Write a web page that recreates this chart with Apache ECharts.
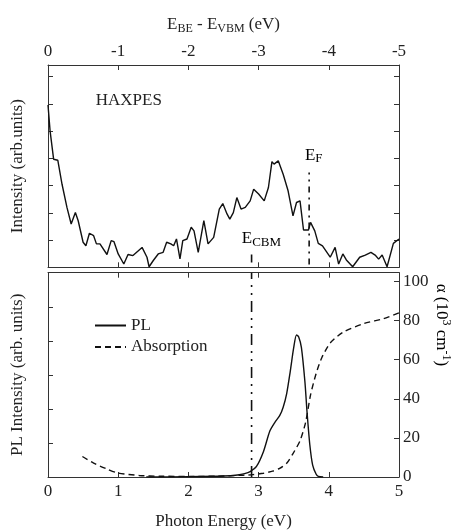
<!DOCTYPE html>
<html><head><meta charset="utf-8">
<script src="https://cdn.jsdelivr.net/npm/echarts@6/dist/echarts.min.js"></script>
<style>html,body{margin:0;padding:0;background:#fff}#c{width:456px;height:531px}</style>
</head><body><div id="c"></div>
<script>
// HAXPES valence band spectrum: [E_BE - E_VBM (eV), intensity (arb.)]
const haxpes = [[0,5.96],[-0.03,5.0],[-0.08,3.97],[-0.14,3.93],[-0.2,3.05],[-0.27,2.2],[-0.33,1.59],[-0.39,2.01],[-0.43,1.71],[-0.5,0.92],[-0.54,0.79],[-0.59,1.25],[-0.65,1.16],[-0.69,0.86],[-0.74,0.86],[-0.84,0.47],[-0.9,0.98],[-0.94,0.94],[-1.0,0.49],[-1.08,0.12],[-1.14,0.47],[-1.21,0.43],[-1.34,0.73],[-1.41,0.37],[-1.44,0.02],[-1.5,0.25],[-1.57,0.49],[-1.64,0.55],[-1.69,0.92],[-1.75,0.86],[-1.79,0.79],[-1.83,1.04],[-1.88,0.31],[-1.92,0.98],[-1.98,1.04],[-2.04,1.47],[-2.08,1.34],[-2.14,0.55],[-2.22,1.71],[-2.28,0.86],[-2.36,1.1],[-2.44,2.14],[-2.49,2.34],[-2.55,1.96],[-2.59,1.77],[-2.64,2.01],[-2.69,2.56],[-2.75,2.14],[-2.81,2.2],[-2.88,2.44],[-2.93,2.87],[-3.0,2.69],[-3.08,2.44],[-3.14,2.93],[-3.19,3.88],[-3.22,3.79],[-3.28,3.91],[-3.35,3.42],[-3.42,2.81],[-3.49,1.89],[-3.54,2.38],[-3.59,2.44],[-3.64,1.37],[-3.71,1.37],[-3.74,1.65],[-3.8,1.34],[-3.85,0.88],[-3.91,0.79],[-4.02,0.37],[-4.09,0.73],[-4.14,0.12],[-4.2,0.49],[-4.25,0.27],[-4.34,0.02],[-4.44,0.37],[-4.52,0.45],[-4.6,0.55],[-4.66,0.45],[-4.71,0.3],[-4.76,0.45],[-4.83,0.02],[-4.92,0.88],[-5.0,1.04]];
// PL spectrum: [photon energy (eV), PL intensity (arb.)]
const plData = [[1.4,0],[2.0,0.01],[2.5,0.03],[2.7,0.06],[2.8,0.1],[2.88,0.16],[2.97,0.31],[3.07,0.75],[3.16,1.35],[3.23,1.6],[3.3,1.8],[3.35,2.05],[3.4,2.45],[3.45,3.09],[3.5,3.8],[3.54,4.17],[3.57,4.12],[3.61,3.8],[3.66,2.79],[3.69,1.91],[3.73,0.94],[3.77,0.35],[3.82,0.08],[3.85,0.02],[3.92,0]];
// Absorption coefficient: [photon energy (eV), alpha (10^3 cm^-1)]
const absorption = [[0.49,10.5],[0.65,7.1],[0.84,4.1],[1.0,2.0],[1.3,0.8],[1.6,0.4],[2.0,0.3],[2.4,0.4],[2.64,0.7],[2.92,1.2],[3.07,1.9],[3.2,3.0],[3.3,4.4],[3.4,7.0],[3.49,12],[3.59,18.5],[3.67,28],[3.74,42],[3.82,53],[3.9,61],[4.02,68.5],[4.2,74],[4.5,78.5],[4.78,81],[5.0,84]];
// marker energies
const eCBM = 2.9;
const eF = -3.72;
const legendNames = ['PL','Absorption'];

const FONT = 'Liberation Serif';
const INK = '#111';
const AX = '#333';
const tick = {show:true, inside:true, length:5, lineStyle:{color:AX}};
const line = {show:true, onZero:false, lineStyle:{color:AX, width:1}};
const lbl = {fontFamily:FONT, fontSize:17, color:'#222'};

const chart = echarts.init(document.getElementById('c'), null, {renderer:'canvas'});
const option = {
  animation:false,
  backgroundColor:'#fff',
  grid:[
    {left:48, right:57, top:65, height:202.3},
    {left:48, right:57, top:272.7, height:204.6}
  ],
  legend:{
    data:legendNames.map(n => ({name:n})), orient:'vertical', left:89, top:312, itemWidth:31, itemHeight:14, itemGap:4.4,
    itemStyle:{opacity:0},
    textStyle:{fontFamily:FONT, fontSize:17, color:'#222'}
  },
  xAxis:[
    {gridIndex:0, type:'value', position:'top', min:-5, max:0, interval:1, inverse:true,
     axisLine:line, axisTick:tick, splitLine:{show:false}, axisLabel:Object.assign({margin:5}, lbl),
     name:'{n|E}{s|BE}{n| - E}{s|VBM}{n| (eV)}', nameLocation:'middle', nameGap:30,
     nameTextStyle:{rich:{n:{fontFamily:FONT,fontSize:17,color:'#222',lineHeight:20},s:{fontFamily:FONT,fontSize:12,color:'#222',lineHeight:12,verticalAlign:'bottom'}}}},
    {gridIndex:0, type:'value', position:'bottom', min:-5, max:0, interval:1, inverse:true,
     axisLine:line, axisTick:tick, splitLine:{show:false}, axisLabel:{show:false}},
    {gridIndex:1, type:'value', position:'bottom', min:0, max:5, interval:1,
     axisLine:line, axisTick:tick, splitLine:{show:false}, axisLabel:Object.assign({margin:6}, lbl),
     name:'Photon Energy (eV)', nameLocation:'middle', nameGap:36, nameTextStyle:lbl},
    {gridIndex:1, type:'value', position:'top', min:0, max:5, interval:1,
     axisLine:line, axisTick:tick, splitLine:{show:false}, axisLabel:{show:false}}
  ],
  yAxis:[
    {gridIndex:0, type:'value', position:'left', min:0, max:7.43, interval:1,
     axisLine:line, axisTick:tick, splitLine:{show:false}, axisLabel:{show:false},
     name:'Intensity (arb.units)', nameLocation:'middle', nameGap:22, nameTextStyle:lbl},
    {gridIndex:0, type:'value', position:'right', min:0, max:7.43, interval:1,
     axisLine:line, axisTick:tick, splitLine:{show:false}, axisLabel:{show:false}},
    {gridIndex:1, type:'value', position:'left', min:0, max:6, interval:1,
     axisLine:line, axisTick:tick, splitLine:{show:false}, axisLabel:{show:false},
     name:'PL Intensity (arb. units)', nameLocation:'middle', nameGap:22, nameTextStyle:lbl},
    {gridIndex:1, type:'value', position:'right', min:0, max:104.5, interval:20,
     axisLine:line, axisTick:tick, splitLine:{show:false}, axisLabel:Object.assign({margin:4, showMaxLabel:false}, lbl)}
  ],
  series:[
    {name:'HAXPES', type:'line', xAxisIndex:0, yAxisIndex:0, data:haxpes, showSymbol:false, symbol:'none',
     lineStyle:{color:INK, width:1.4}},
    {name:'EF', type:'line', xAxisIndex:0, yAxisIndex:0, data:[[eF,0.1],[eF,3.48]], symbol:'none',
     lineStyle:{color:INK, width:1.6, type:[6,5,2,5]}},
    {name:'ECBMtop', type:'line', xAxisIndex:0, yAxisIndex:0, data:[[-eCBM,0.18],[-eCBM,0.47]], symbol:'none',
     lineStyle:{color:INK, width:1.6}},
    {name:'PL', type:'line', xAxisIndex:2, yAxisIndex:2, data:plData, symbol:'none', smooth:0.25,
     lineStyle:{color:INK, width:1.4}, itemStyle:{color:INK}},
    {name:'Absorption', type:'line', xAxisIndex:2, yAxisIndex:3, data:absorption, symbol:'none', smooth:0.25,
     lineStyle:{color:INK, width:1.4, type:[6,4]}, itemStyle:{color:INK}},
    {name:'ECBM', type:'line', xAxisIndex:2, yAxisIndex:2, data:[[eCBM,0],[eCBM,6]], symbol:'none',
     lineStyle:{color:INK, width:1.6, type:[11,6,2,6,2,6]}}
  ]
};
chart.setOption(option);

const px = (xi, yi, pt) => chart.convertToPixel({xAxisIndex:xi, yAxisIndex:yi}, pt);
const hx = px(0,0,[-0.68,6.14]);
const ef = px(0,0,[-3.66,4.12]);
const cb = px(0,0,[-2.76,1.04]);
const al = px(2,3,[5.6,77.8]);
const subRich = {
  n:{fontFamily:FONT,fontSize:17,color:'#222',lineHeight:20},
  s:{fontFamily:FONT,fontSize:13,color:'#222',lineHeight:13,verticalAlign:'bottom'},
  p:{fontFamily:FONT,fontSize:12,color:'#222',lineHeight:12,verticalAlign:'top'},
  m:{fontFamily:FONT,fontSize:17,color:'#222',lineHeight:22}
};
chart.setOption({graphic:[
  {type:'text', x:hx[0], y:hx[1], style:{text:'HAXPES', font:'17px '+FONT, fill:'#222', align:'left', verticalAlign:'middle'}},
  {type:'text', x:ef[0], y:ef[1], style:{text:'{n|E}{s|F}', rich:subRich, align:'left', verticalAlign:'middle'}},
  {type:'text', x:cb[0], y:cb[1], style:{text:'{n|E}{s|CBM}', rich:subRich, align:'left', verticalAlign:'middle'}},
  {type:'text', x:al[0], y:al[1], rotation:-Math.PI/2, style:{text:'{m|α (10}{p|3}{m| cm}{p|-1}{m|)}', rich:subRich, align:'center', verticalAlign:'middle'}}
]});
</script>
</body></html>
